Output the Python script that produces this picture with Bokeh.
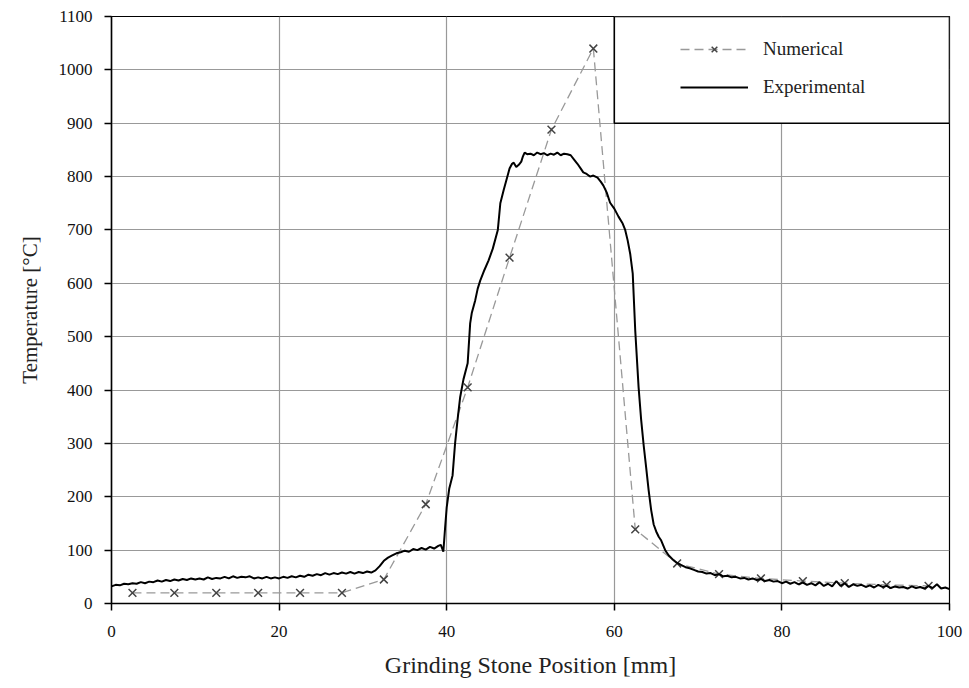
from bokeh.plotting import figure
from bokeh.models import (Range1d, FixedTicker, Legend, LegendItem)
from bokeh.embed import file_html
from bokeh.resources import INLINE

# ---- data ----
num_x = [2.5, 7.5, 12.5, 17.5, 22.5, 27.5, 32.5, 37.5, 42.5, 47.5,
         52.5, 57.5, 62.5, 67.5, 72.5, 77.5, 82.5, 87.5, 92.5, 97.5]
num_y = [20, 20, 20, 20, 20, 20, 45, 186, 405, 648,
         888, 1040, 139, 75, 55, 47, 42, 38, 35, 33]

exp_x = [0.0, 0.5, 1.0, 1.5, 2.0, 2.5, 3.0, 3.5, 4.0, 4.5, 5.0, 5.5, 6.0, 6.5, 7.0, 7.5,
         8.0, 8.5, 9.0, 9.5, 10.0, 10.5, 11.0, 11.5, 12.0, 12.5, 13.0, 13.5, 14.0, 14.5,
         15.0, 15.5, 16.0, 16.5, 17.0, 17.5, 18.0, 18.5, 19.0, 19.5, 20.0, 20.5, 21.0,
         21.5, 22.0, 22.5, 23.0, 23.5, 24.0, 24.5, 25.0, 25.5, 26.0, 26.5, 27.0, 27.5,
         28.0, 28.5, 29.0, 29.5, 30.0, 30.5, 31.0, 31.5,
         32.0, 32.5, 33.0, 33.5, 34.0, 34.5, 35.0, 35.5, 36.0, 36.5, 37.0, 37.5, 38.0,
         38.5, 39.0, 39.3, 39.6, 39.8, 40.0, 40.3, 40.7, 41.0, 41.3, 41.6, 42.0, 42.5,
         42.8, 43.0, 43.4, 43.7, 44.0, 44.5, 45.0, 45.5, 46.1, 46.4, 46.8, 47.2, 47.5,
         47.8, 48.0, 48.3, 48.6, 48.9, 49.1, 49.3, 49.6, 50.0, 50.4, 50.8, 51.2, 51.6,
         52.0, 52.4, 52.8, 53.2, 53.6, 54.0, 54.4, 54.8, 55.2, 55.6, 56.0, 56.3, 56.7,
         57.1, 57.5, 58.0, 58.4, 58.7, 59.1, 59.5, 60.0, 60.5, 61.0, 61.3, 61.6, 61.9,
         62.2, 62.5, 62.9, 63.2, 63.5, 63.8, 64.1, 64.4, 64.7, 65.0, 65.3, 65.6, 66.1,
         66.5, 67.0, 67.5, 68.0, 68.5, 69.0, 69.5, 70.0, 70.5, 71.0, 71.5, 72.0, 72.5,
         73.0, 73.5, 74.0, 74.5, 75.0, 75.5, 76.0, 76.5, 77.0, 77.5, 78.0, 78.5, 79.0,
         79.5, 80.0, 80.5, 81.0, 81.5, 82.0, 82.5, 83.0, 83.5, 84.0, 84.5, 85.0, 85.5,
         86.0, 86.5, 87.0, 87.5, 88.0, 88.5, 89.0, 89.5, 90.0, 90.5, 91.0, 91.5, 92.0,
         92.5, 93.0, 93.5, 94.0, 94.5, 95.0, 95.5, 96.0, 96.5, 97.0, 97.5, 98.0, 98.5,
         99.0, 99.5, 100.0]
exp_y = [32, 35, 34, 37, 36, 38, 37, 40, 38, 41, 40, 43, 41, 44, 42, 45,
         43, 46, 44, 47, 45, 47, 45, 49, 46, 48, 47, 50, 47, 51,
         48, 50, 49, 51, 47, 49, 47, 50, 47, 49, 47, 50, 48,
         51, 49, 52, 50, 54, 52, 55, 53, 57, 54, 57, 55, 58,
         56, 59, 56, 59, 57, 60, 58, 62,
         70, 80, 86, 90, 94, 96, 99, 97, 102, 100, 104, 101, 106,
         103, 108, 110, 97, 140, 180, 215, 240, 300, 345, 386, 420, 450,
         525, 545, 568, 590, 605, 625, 643, 665, 700, 750, 775, 798, 815,
         824, 826, 818, 822, 828, 838, 845, 842, 843, 840, 845, 842, 844,
         840, 843, 841, 845, 840, 843, 842, 840, 832, 824, 815, 808, 805,
         800, 802, 798, 790, 783, 770, 751, 740, 725, 712, 700, 680, 655,
         618, 511, 405, 345, 297, 255, 212, 175, 148, 135, 125, 118, 99,
         90, 82, 76, 72, 68, 66, 63, 60, 59, 56, 57, 53, 55,
         51, 52, 49, 50, 47, 48, 45, 47, 44, 46, 42, 44, 41,
         42, 38, 41, 37, 40, 36, 39, 35, 38, 34, 40, 33, 37,
         32, 42, 33, 38, 31, 36, 33, 35, 31, 34, 30, 35, 31,
         33, 29, 32, 30, 31, 28, 32, 29, 31, 28, 33, 29, 36,
         28, 30, 27]

x_ticks = [0, 20, 40, 60, 80, 100]
y_ticks = [0, 100, 200, 300, 400, 500, 600, 700, 800, 900, 1000, 1100]

# legend frame spans these data extents (top-right corner cell)
legend_box_x = [60, 100]
legend_box_y = [900, 1100]

FONT = "Liberation Serif"

p = figure(width=969, height=688, output_backend="svg", toolbar_location=None,
           x_range=Range1d(0, 100), y_range=Range1d(0, 1100))
p.min_border_left = 111
p.min_border_right = 20
p.min_border_top = 16
p.min_border_bottom = 85
p.background_fill_color = "white"
p.border_fill_color = "white"
p.outline_line_color = "black"
p.outline_line_width = 1.2

for ax in (p.xaxis[0], p.yaxis[0]):
    ax.axis_line_color = "black"
    ax.axis_line_width = 1.5
    ax.major_tick_line_color = "black"
    ax.major_tick_line_width = 1.5
    ax.major_tick_out = 7
    ax.major_tick_in = 0
    ax.minor_tick_line_color = None
    ax.major_label_text_font = FONT
    ax.major_label_text_font_size = "17px"
    ax.major_label_text_color = "#111111"
    ax.axis_label_text_font = FONT
    ax.axis_label_text_font_style = "normal"
    ax.axis_label_text_color = "#222222"

p.xaxis.axis_label_text_font_size = "24px"
p.yaxis.axis_label_text_font_size = "21px"
p.xaxis.ticker = FixedTicker(ticks=x_ticks)
p.yaxis.ticker = FixedTicker(ticks=y_ticks)
p.xaxis.major_label_standoff = 15
p.yaxis.major_label_standoff = 12
p.xaxis.axis_label_standoff = 12
p.yaxis.axis_label_standoff = 14
p.xaxis.axis_label = "Grinding Stone Position [mm]"
p.yaxis.axis_label = "Temperature [°C]"

p.xgrid.grid_line_color = "#999999"
p.ygrid.grid_line_color = "#999999"
p.xgrid.grid_line_width = 1.2
p.ygrid.grid_line_width = 1.2

num_line = p.line(num_x, num_y, line_color="#999999", line_width=1.3, line_dash="9 5")
num_pts = p.scatter(num_x, num_y, marker="x", size=11, line_color="#444444", line_width=1.5)
exp_line = p.line(exp_x, exp_y, line_color="black", line_width=2)

p.quad(left=[legend_box_x[0]], right=[legend_box_x[1]],
       bottom=[legend_box_y[0]], top=[legend_box_y[1]],
       fill_color="white", fill_alpha=1.0, line_color="black", line_width=1.6)

legend = Legend(items=[LegendItem(label="Numerical", renderers=[num_line, num_pts]),
                       LegendItem(label="Experimental", renderers=[exp_line])],
                location=(569, 505), padding=0, margin=0, spacing=16,
                glyph_width=68, glyph_height=20, label_standoff=15,
                label_text_font=FONT, label_text_font_size="19px",
                label_text_color="#222222",
                border_line_alpha=0, background_fill_alpha=0)
p.add_layout(legend)

open("out.html", "w").write(file_html(p, INLINE))
